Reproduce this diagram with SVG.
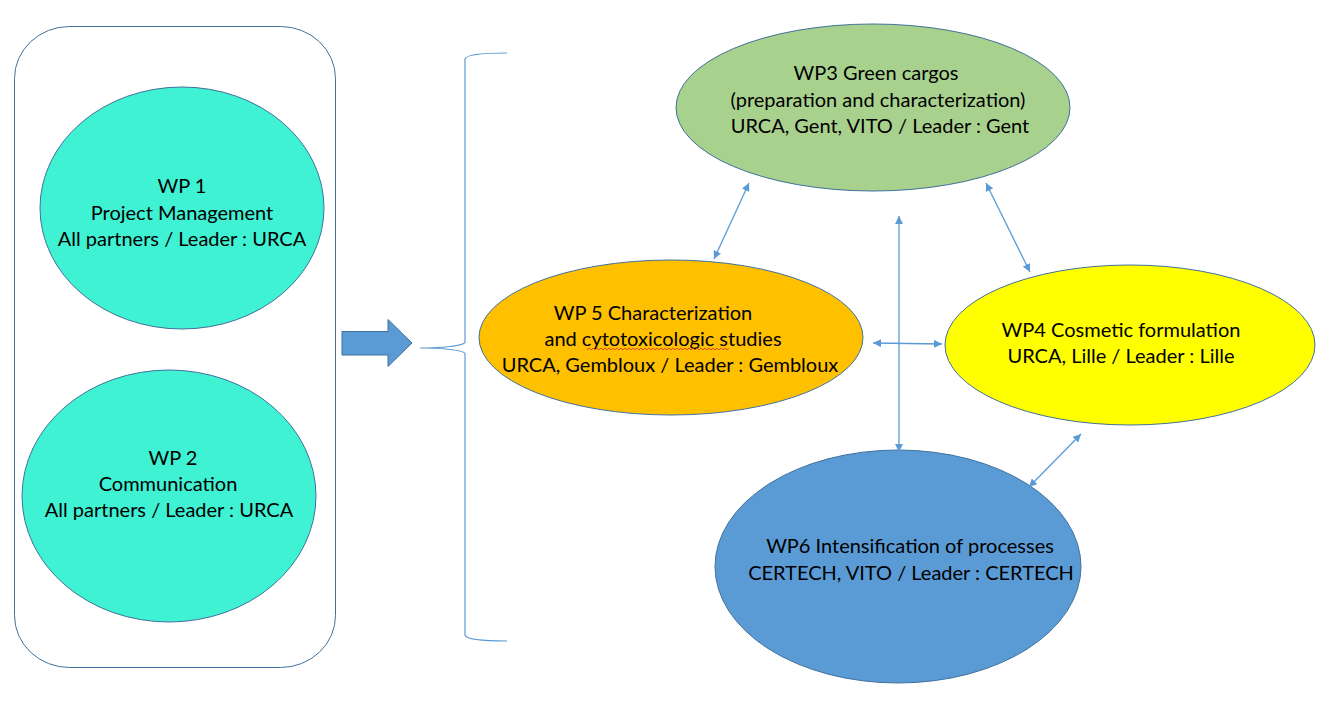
<svg xmlns="http://www.w3.org/2000/svg" width="1320" height="708" viewBox="0 0 1320 708">
<defs>
<style>
.nd{stroke:#41719C;stroke-width:1}
.t{font-family:Lato,"Liberation Sans",sans-serif;font-size:20px;fill:#000;text-anchor:middle}
.cn{stroke:#5B9BD5;stroke-width:1.3;fill:none;marker-start:url(#ah);marker-end:url(#ah)}
</style>
<marker id="ah" viewBox="0 0 10 10" refX="10" refY="5" markerWidth="8" markerHeight="8" markerUnits="userSpaceOnUse" orient="auto-start-reverse">
<path d="M0,0 L10,5 L0,10 z" fill="#5B9BD5"/>
</marker>
</defs>
<rect width="1320" height="708" fill="#fff"/>
<g id="container">
<rect x="14.5" y="26.5" width="321" height="641" rx="55" ry="52" fill="none" stroke="#41719C" stroke-width="1"/>
</g>
<g id="wp1">
<ellipse class="nd" cx="182" cy="208" rx="142" ry="121" fill="#3FF2D3"/>
<text class="t" x="182" y="193">WP 1</text>
<text class="t" x="182" y="219.5">Project Management</text>
<text class="t" x="182" y="246">All partners / Leader : URCA</text>
</g>
<g id="wp2">
<ellipse class="nd" cx="169" cy="496" rx="147" ry="126" fill="#3FF2D3"/>
<text class="t" x="173" y="465">WP 2</text>
<text class="t" x="168" y="491">Communication</text>
<text class="t" x="169" y="517">All partners / Leader : URCA</text>
</g>
<g id="bigarrow">
<polygon points="342,331.5 388,331.5 388,319.5 412,343 388,366.5 388,355 342,355" fill="#5B9BD5" stroke="#41719C" stroke-width="1"/>
</g>
<g id="brace">
<path d="M507,53 C480,53 466,55 465,59 L465,342 C465,346 440,348 420,348 C440,348 465,350 465,354 L465,635 C466,639 480,641 507,641" fill="none" stroke="#5B9BD5" stroke-width="1.2"/>
</g>
<g id="wp3">
<ellipse class="nd" cx="873" cy="107.5" rx="197" ry="83.5" fill="#A9D18E"/>
<text class="t" x="876" y="80">WP3 Green cargos</text>
<text class="t" x="878" y="107">(preparation and characterization)</text>
<text class="t" x="880" y="133">URCA, Gent, VITO / Leader : Gent</text>
</g>
<g id="wp5">
<ellipse class="nd" cx="671" cy="337.5" rx="192" ry="77.5" fill="#FFC000"/>
<text class="t" x="653" y="320">WP 5 Characterization</text>
<text class="t" x="663" y="346">and cytotoxicologic studies</text>
<text class="t" x="670" y="372">URCA, Gembloux / Leader : Gembloux</text>
<path d="M587,350 l2,-2 l2,2 l2,-2 l2,2 l2,-2 l2,2 l2,-2 l2,2 l2,-2 l2,2 l2,-2 l2,2 l2,-2 l2,2 l2,-2 l2,2 l2,-2 l2,2 l2,-2 l2,2 l2,-2 l2,2 l2,-2 l2,2 l2,-2 l2,2 l2,-2 l2,2 l2,-2 l2,2 l2,-2 l2,2 l2,-2 l2,2 l2,-2 l2,2 l2,-2 l2,2 l2,-2 l2,2 l2,-2 l2,2 l2,-2 l2,2 l2,-2 l2,2 l2,-2 l2,2 l2,-2 l2,2 l2,-2 l2,2 l2,-2 l2,2 l2,-2 l2,2 l2,-2 l2,2 l2,-2 l2,2 l2,-2 l2,2 l2,-2 l2,2 l2,-2 l2,2 l2,-2 l2,2 l2,-2 l2,2 l2,-2" fill="none" stroke="#E03030" stroke-width="0.8"/>
</g>
<g id="wp4">
<ellipse class="nd" cx="1130" cy="345" rx="185" ry="80" fill="#FFFF00"/>
<text class="t" x="1121" y="337">WP4 Cosmetic formulation</text>
<text class="t" x="1121" y="363">URCA, Lille / Leader : Lille</text>
</g>
<g id="wp6">
<ellipse class="nd" cx="898" cy="566.5" rx="183" ry="116.5" fill="#5B9BD5"/>
<text class="t" x="910" y="553">WP6 Intensification of processes</text>
<text class="t" x="911" y="580">CERTECH, VITO / Leader : CERTECH</text>
</g>
<g id="connectors">
<line class="cn" x1="749" y1="183" x2="714" y2="259"/>
<line class="cn" x1="986" y1="183" x2="1030" y2="272"/>
<line class="cn" x1="873" y1="343" x2="942" y2="344"/>
<line class="cn" x1="899" y1="216" x2="899" y2="452"/>
<line class="cn" x1="1081" y1="434" x2="1029" y2="487"/>
</g>
</svg>
